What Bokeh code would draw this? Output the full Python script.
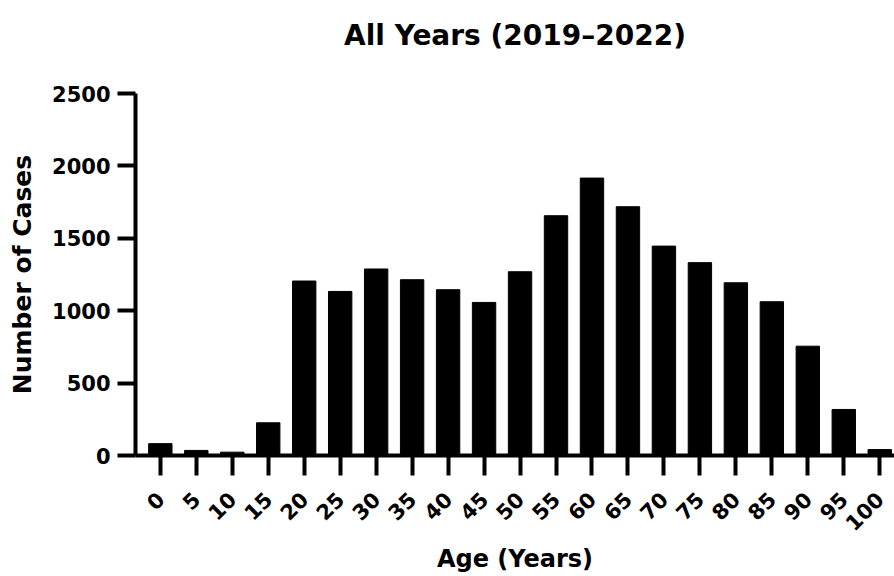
import math
from bokeh.plotting import figure
from bokeh.models import ColumnDataSource, Range1d, FixedTicker, Title
from bokeh.embed import file_html
from bokeh.resources import INLINE

ages = [0, 5, 10, 15, 20, 25, 30, 35, 40, 45, 50, 55, 60, 65, 70, 75, 80, 85, 90, 95, 100]
cases = [82, 35, 23, 226, 1205, 1133, 1288, 1214, 1145, 1057, 1269, 1656, 1916, 1718,
         1446, 1332, 1193, 1062, 755, 318, 41]
y_ticks = [0, 500, 1000, 1500, 2000, 2500]

title_text = "All Years (2019\u20132022)"
x_label = "Age (Years)"
y_label = "Number of Cases"

FONT = "DejaVu Sans"

idx = list(range(len(ages)))
src = ColumnDataSource(data=dict(idx=idx, cases=cases, age=[str(a) for a in ages]))

p = figure(width=894, height=576, output_backend="svg", toolbar_location=None,
           x_range=Range1d(-0.69, len(ages) - 1 + 0.41), y_range=Range1d(0, 2500),
           min_border_left=135, min_border_right=0, min_border_top=93, min_border_bottom=121)
p.title_location = None

p.vbar(x="idx", top="cases", width=0.65, source=src, fill_color="black", line_color="black")

# spacer between frame and title, then the title itself (stacked outward)
p.add_layout(Title(text=" ", text_font_size="1px", standoff=24), "above")
p.add_layout(Title(text=title_text, align="center", offset=3, standoff=30,
                   text_font=FONT, text_font_style="bold", text_font_size="28px",
                   text_color="black"), "above")

p.outline_line_color = None
p.xgrid.grid_line_color = None
p.ygrid.grid_line_color = None
p.background_fill_color = "white"
p.border_fill_color = "white"

xa = p.xaxis[0]
xa.ticker = FixedTicker(ticks=idx)
xa.major_label_overrides = {i: str(a) for i, a in zip(idx, ages)}
xa.major_label_orientation = math.pi / 4
xa.axis_label = x_label

ya = p.yaxis[0]
ya.ticker = FixedTicker(ticks=y_ticks)
ya.axis_label = y_label

for ax in (xa, ya):
    ax.axis_line_width = 4
    ax.axis_line_color = "black"
    ax.major_tick_line_width = 4
    ax.major_tick_line_color = "black"
    ax.major_tick_in = 0
    ax.major_tick_out = 18
    ax.minor_tick_line_color = None
    ax.major_label_text_font = FONT
    ax.major_label_text_font_style = "bold"
    ax.major_label_text_font_size = "21px"
    ax.major_label_text_color = "black"
    ax.axis_label_text_font = FONT
    ax.axis_label_text_font_style = "bold"
    ax.axis_label_text_color = "black"

xa.major_tick_out = 20
xa.axis_label_text_font_size = "24px"
ya.axis_label_text_font_size = "25px"
ya.major_label_standoff = 7
xa.major_label_standoff = 20
ya.axis_label_standoff = 12
xa.axis_label_standoff = 4

open("out.html", "w").write(file_html(p, INLINE))
